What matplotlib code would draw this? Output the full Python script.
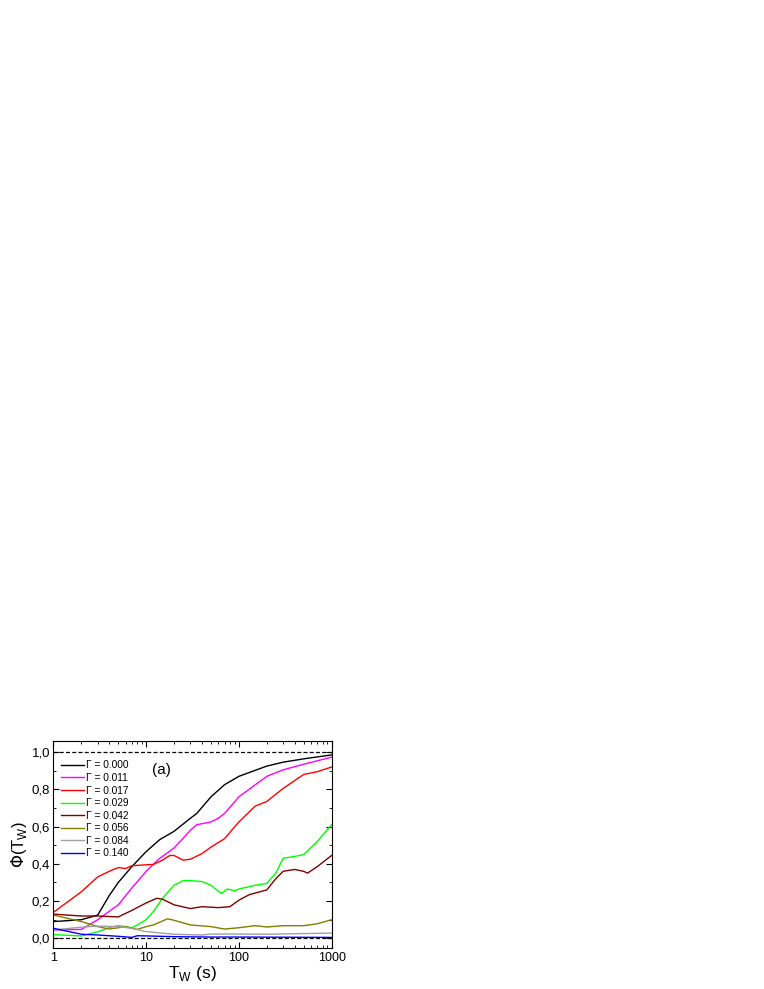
import matplotlib
matplotlib.use("Agg")
import matplotlib.pyplot as plt
from matplotlib.ticker import FixedLocator, FuncFormatter, LogLocator, NullFormatter

plt.rcParams['font.family'] = ['Liberation Sans', 'DejaVu Sans']

# Daten, Tw in s
t_g000 = [1, 2, 3, 4, 5, 7, 10, 14, 20, 30, 35, 50, 70, 100, 200, 300, 500, 1000]
phi_g000 = [0.09, 0.10, 0.125, 0.23, 0.30, 0.385, 0.466, 0.53, 0.575, 0.645, 0.67,
            0.76, 0.825, 0.87, 0.925, 0.946, 0.964, 0.985]

t_g011 = [1, 2, 3, 4, 5, 7, 10, 14, 20, 30, 35, 50, 60, 70, 100, 200, 300, 500, 1000]
phi_g011 = [0.045, 0.048, 0.10, 0.145, 0.18, 0.27, 0.36, 0.43, 0.485, 0.58, 0.61,
            0.625, 0.645, 0.67, 0.76, 0.87, 0.905, 0.935, 0.973]

t_g017 = [1, 2, 3, 4, 5, 6, 7, 10, 12, 15, 18, 20, 25, 30, 40, 50, 70, 100, 150,
          200, 300, 500, 700, 1000]
phi_g017 = [0.14, 0.25, 0.33, 0.36, 0.38, 0.375, 0.39, 0.395, 0.397, 0.42, 0.445,
            0.445, 0.42, 0.425, 0.455, 0.49, 0.535, 0.625, 0.71, 0.735, 0.805,
            0.88, 0.895, 0.92]

t_g029 = [1, 2, 3, 4, 5, 6, 7, 8, 10, 12, 15, 20, 25, 30, 40, 50, 65, 75, 90, 100,
          150, 200, 250, 300, 400, 500, 700, 1000]
phi_g029 = [0.02, 0.013, 0.035, 0.058, 0.068, 0.063, 0.057, 0.072, 0.10, 0.145,
            0.215, 0.285, 0.31, 0.31, 0.305, 0.285, 0.24, 0.265, 0.255, 0.265,
            0.285, 0.295, 0.35, 0.43, 0.44, 0.45, 0.52, 0.61]

t_g042 = [1, 2, 3, 5, 7, 10, 13, 15, 20, 30, 40, 60, 80, 100, 130, 200, 250, 300,
          400, 500, 550, 700, 1000]
phi_g042 = [0.13, 0.12, 0.12, 0.115, 0.15, 0.19, 0.215, 0.21, 0.18, 0.16, 0.17,
            0.165, 0.17, 0.205, 0.235, 0.26, 0.32, 0.36, 0.37, 0.36, 0.35, 0.385,
            0.445]

t_g056 = [1, 2, 3, 4, 5, 6, 7, 8, 10, 12, 17, 20, 30, 50, 70, 100, 150, 200, 300,
          500, 700, 1000]
phi_g056 = [0.125, 0.09, 0.063, 0.05, 0.057, 0.063, 0.054, 0.048, 0.063, 0.072,
            0.105, 0.097, 0.072, 0.063, 0.05, 0.057, 0.068, 0.061, 0.068, 0.068,
            0.078, 0.10]

t_g084 = [1, 2, 3, 5, 7, 10, 20, 40, 50, 100, 200, 400, 1000]
phi_g084 = [0.045, 0.06, 0.066, 0.063, 0.054, 0.036, 0.022, 0.018, 0.023, 0.023,
            0.022, 0.025, 0.028]

t_g140 = [1, 2, 3, 5, 7, 8, 10, 20, 50, 100, 1000]
phi_g140 = [0.054, 0.022, 0.018, 0.011, 0.005, 0.014, 0.013, 0.009, 0.007, 0.007,
            0.005]

labels = ["Γ = 0.000", "Γ = 0.011", "Γ = 0.017", "Γ = 0.029",
          "Γ = 0.042", "Γ = 0.056", "Γ = 0.084", "Γ = 0.140"]
colors = ["#000000", "#FF00FF", "#FF0000", "#00FF00",
          "#800000", "#808000", "#A0A0A0", "#0000FF"]

kurven = [(t_g000, phi_g000), (t_g011, phi_g011), (t_g017, phi_g017),
          (t_g029, phi_g029), (t_g042, phi_g042), (t_g056, phi_g056),
          (t_g084, phi_g084), (t_g140, phi_g140)]

fig = plt.figure(figsize=(7.64, 9.89), dpi=100)
ax = fig.add_axes([0.070, 0.0418, 0.364, 0.209])

for (t, phi), col, lbl in zip(kurven, colors, labels):
    ax.plot(t, phi, color=col, linewidth=1.0, label=lbl)

# Grenzlinien
ax.axhline(0.0, color="black", linestyle=(0, (3.2, 1.8)), linewidth=0.9)
ax.axhline(1.0, color="black", linestyle=(0, (3.2, 1.8)), linewidth=0.9)

ax.set_xscale("log")
ax.set_xlim(1, 1000)
ax.set_ylim(-0.05, 1.06)

ax.xaxis.set_major_locator(FixedLocator([1, 10, 100, 1000]))
ax.xaxis.set_major_formatter(FuncFormatter(lambda v, p: f"{v:g}"))
ax.xaxis.set_minor_locator(LogLocator(base=10, subs=range(2, 10)))
ax.xaxis.set_minor_formatter(NullFormatter())

ax.yaxis.set_major_locator(FixedLocator([0.0, 0.2, 0.4, 0.6, 0.8, 1.0]))
ax.yaxis.set_minor_locator(FixedLocator([0.1, 0.3, 0.5, 0.7, 0.9]))
ax.yaxis.set_major_formatter(FuncFormatter(lambda v, p: f"{v:.1f}".replace(".", ",")))

ax.tick_params(which="both", direction="in", top=True, right=True)
ax.tick_params(axis="y", labelsize=9.5, pad=2.5)
ax.tick_params(axis="x", labelsize=9.0, pad=3)
ax.tick_params(which="major", length=4, width=0.8)
ax.tick_params(which="minor", length=2.2, width=0.6)
for sp in ax.spines.values():
    sp.set_linewidth(0.8)

ax.set_xlabel(r"T$_\mathregular{W}$ (s)", fontsize=12.5, labelpad=0)
ax.set_ylabel(r"$\Phi$(T$_\mathregular{W}$)", fontsize=12, labelpad=2)

ax.text(0.39, 0.86, "(a)", transform=ax.transAxes, fontsize=11,
        ha="center", va="center")

ax.legend(loc="upper left", bbox_to_anchor=(0.0, 0.94), frameon=False,
          fontsize=7.3, handlelength=2.35, handletextpad=0.2, labelspacing=0.25,
          borderaxespad=0.3)

fig.savefig("out.png", dpi=100)
